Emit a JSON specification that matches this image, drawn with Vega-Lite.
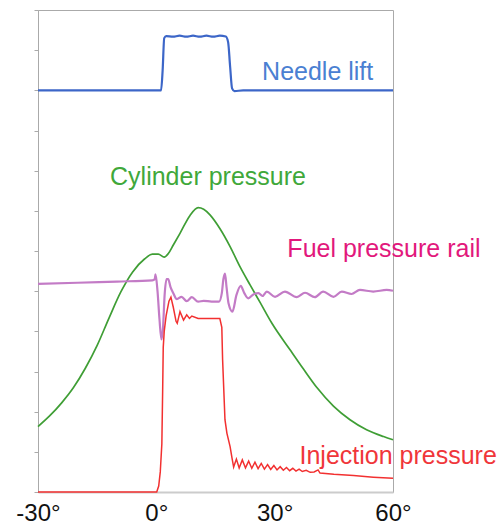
{
  "$schema": "https://vega.github.io/schema/vega-lite/v6.json",
  "width": 355,
  "height": 482,
  "autosize": "none",
  "padding": {"left": 38, "top": 10, "right": 109, "bottom": 32},
  "background": "white",
  "config": {
    "view": {"stroke": "#aaaaaa", "strokeWidth": 1},
    "font": "Liberation Sans"
  },
  "datasets": {
    "needle": [
      {"x": -30, "y": 10.0}, {"x": 1.2, "y": 10.0}, {"x": 1.6, "y": 10.5}, {"x": 2.0, "y": 11.3},
      {"x": 2.5, "y": 11.35}, {"x": 4.2, "y": 11.335}, {"x": 5.9, "y": 11.36}, {"x": 7.6, "y": 11.335},
      {"x": 9.3, "y": 11.36}, {"x": 11.0, "y": 11.335}, {"x": 12.7, "y": 11.36}, {"x": 14.4, "y": 11.335},
      {"x": 16.1, "y": 11.36}, {"x": 17.6, "y": 11.34}, {"x": 18.2, "y": 11.2}, {"x": 18.7, "y": 10.6},
      {"x": 19.2, "y": 10.05}, {"x": 19.8, "y": 9.98}, {"x": 22, "y": 10.0}, {"x": 60, "y": 10.0}
    ],
    "cylinder": [
      {"x": -30, "y": 1.63}, {"x": -27, "y": 1.9}, {"x": -24, "y": 2.22}, {"x": -21, "y": 2.6},
      {"x": -18, "y": 3.08}, {"x": -15, "y": 3.65}, {"x": -12, "y": 4.33}, {"x": -9, "y": 4.98},
      {"x": -6, "y": 5.48}, {"x": -3, "y": 5.8}, {"x": -1, "y": 5.92}, {"x": 0.5, "y": 5.92},
      {"x": 2, "y": 5.85}, {"x": 3, "y": 5.93}, {"x": 4.3, "y": 6.15}, {"x": 6, "y": 6.44},
      {"x": 8.5, "y": 6.88}, {"x": 10.6, "y": 7.08}, {"x": 12, "y": 7.04}, {"x": 13.6, "y": 6.9},
      {"x": 16.1, "y": 6.56}, {"x": 18.7, "y": 6.11}, {"x": 21.2, "y": 5.61}, {"x": 23.8, "y": 5.15},
      {"x": 26.3, "y": 4.72}, {"x": 29.3, "y": 4.2}, {"x": 33.9, "y": 3.54}, {"x": 37.3, "y": 3.06},
      {"x": 40.7, "y": 2.6}, {"x": 44.9, "y": 2.14}, {"x": 49.1, "y": 1.8}, {"x": 53.3, "y": 1.55},
      {"x": 57.6, "y": 1.38}, {"x": 60, "y": 1.3}
    ],
    "rail": [
      {"x": -30, "y": 5.18}, {"x": -20, "y": 5.21}, {"x": -10, "y": 5.24}, {"x": -1, "y": 5.27},
      {"x": -0.4, "y": 5.3}, {"x": -0.2, "y": 5.42}, {"x": 0.3, "y": 5.0}, {"x": 0.8, "y": 4.3},
      {"x": 1.3, "y": 3.8}, {"x": 1.7, "y": 4.1}, {"x": 2.1, "y": 4.9}, {"x": 2.6, "y": 5.3},
      {"x": 3.0, "y": 5.3}, {"x": 3.6, "y": 5.1}, {"x": 4.3, "y": 4.95}, {"x": 5.2, "y": 4.8},
      {"x": 6.4, "y": 4.86}, {"x": 7.7, "y": 4.75}, {"x": 9.0, "y": 4.85}, {"x": 10.6, "y": 4.74},
      {"x": 12, "y": 4.76}, {"x": 14, "y": 4.74}, {"x": 15.9, "y": 4.74}, {"x": 16.6, "y": 4.95},
      {"x": 17.0, "y": 5.3}, {"x": 17.4, "y": 5.44}, {"x": 17.8, "y": 5.1}, {"x": 18.3, "y": 4.7},
      {"x": 19.3, "y": 4.49}, {"x": 20.3, "y": 4.9}, {"x": 21.4, "y": 5.13}, {"x": 22.3, "y": 4.95},
      {"x": 23.3, "y": 4.82}, {"x": 24.6, "y": 4.92}, {"x": 25.9, "y": 4.95}, {"x": 26.9, "y": 4.88},
      {"x": 28.0, "y": 4.99}, {"x": 30.1, "y": 4.86}, {"x": 32.6, "y": 4.99}, {"x": 35.6, "y": 4.85},
      {"x": 37.7, "y": 4.96}, {"x": 40.2, "y": 4.85}, {"x": 42.3, "y": 4.99}, {"x": 44.9, "y": 4.86},
      {"x": 47.0, "y": 4.99}, {"x": 49.5, "y": 4.93}, {"x": 51.6, "y": 5.03}, {"x": 55.0, "y": 4.99},
      {"x": 58.4, "y": 5.03}, {"x": 60, "y": 5.01}
    ],
    "injection": [
      {"x": -30, "y": 0}, {"x": 0.1, "y": 0}, {"x": 0.6, "y": 0.15}, {"x": 1.0, "y": 0.5},
      {"x": 1.4, "y": 1.2}, {"x": 1.6, "y": 2.5}, {"x": 1.75, "y": 3.6}, {"x": 2.0, "y": 4.0},
      {"x": 2.5, "y": 4.4}, {"x": 3.2, "y": 4.75}, {"x": 3.7, "y": 4.85}, {"x": 4.3, "y": 4.6},
      {"x": 5.0, "y": 4.25}, {"x": 5.3, "y": 4.2}, {"x": 6.0, "y": 4.49}, {"x": 6.9, "y": 4.28},
      {"x": 7.7, "y": 4.41}, {"x": 8.4, "y": 4.32}, {"x": 9.0, "y": 4.38}, {"x": 10.6, "y": 4.32},
      {"x": 16.1, "y": 4.32}, {"x": 16.6, "y": 4.1}, {"x": 16.8, "y": 3.3}, {"x": 17.4, "y": 1.8},
      {"x": 17.9, "y": 1.46}, {"x": 18.7, "y": 1.13}, {"x": 19.2, "y": 0.84}, {"x": 19.6, "y": 0.62},
      {"x": 20.3, "y": 0.82}, {"x": 21.0, "y": 0.6}, {"x": 21.8, "y": 0.8}, {"x": 22.6, "y": 0.6},
      {"x": 23.4, "y": 0.77}, {"x": 24.2, "y": 0.59}, {"x": 25.0, "y": 0.74}, {"x": 25.8, "y": 0.58},
      {"x": 26.6, "y": 0.71}, {"x": 27.4, "y": 0.57}, {"x": 28.2, "y": 0.68}, {"x": 29.0, "y": 0.56},
      {"x": 29.8, "y": 0.66}, {"x": 30.6, "y": 0.55}, {"x": 31.4, "y": 0.63}, {"x": 32.2, "y": 0.54},
      {"x": 33.0, "y": 0.61}, {"x": 33.8, "y": 0.53}, {"x": 34.6, "y": 0.59}, {"x": 35.4, "y": 0.52},
      {"x": 36.2, "y": 0.57}, {"x": 37.0, "y": 0.51}, {"x": 38.0, "y": 0.54}, {"x": 39.0, "y": 0.49},
      {"x": 40.0, "y": 0.5}, {"x": 41.0, "y": 0.55}, {"x": 41.5, "y": 0.47}, {"x": 45, "y": 0.44},
      {"x": 50, "y": 0.41}, {"x": 55, "y": 0.37}, {"x": 60, "y": 0.34}
    ],
    "labels": [
      {"label": "Needle lift", "x": 40.9, "y": 10.26},
      {"label": "Cylinder pressure", "x": 13.1, "y": 7.64},
      {"label": "Fuel pressure rail", "x": 57.7, "y": 5.85},
      {"label": "Injection pressure", "x": 61.3, "y": 0.7}
    ]
  },
  "encoding": {
    "x": {
      "field": "x", "type": "quantitative",
      "scale": {"domain": [-30, 60], "nice": false, "zero": false},
      "axis": {
        "title": null, "values": [-30, 0, 30, 60], "labelExpr": "datum.value + '°'",
        "grid": false, "ticks": false, "domainColor": "#cccccc", "domainWidth": 2,
        "labelFontSize": 24, "labelColor": "#111111", "labelPadding": 9, "labelFont": "Liberation Sans",
        "labelFlush": false, "labelOverlap": false
      }
    },
    "y": {
      "field": "y", "type": "quantitative",
      "scale": {"domain": [0, 12], "nice": false, "zero": false},
      "axis": {
        "title": null, "values": [0, 1, 2, 3, 4, 5, 6, 7, 8, 9, 10, 11, 12], "labels": false,
        "grid": false, "tickColor": "#aaaaaa", "tickSize": 4, "domainColor": "#aaaaaa", "domainWidth": 1
      }
    }
  },
  "layer": [
    {"data": {"name": "cylinder"}, "mark": {"type": "line", "color": "#3f9e35", "strokeWidth": 1.7, "interpolate": "monotone"}},
    {"data": {"name": "rail"}, "mark": {"type": "line", "color": "#c37bc6", "strokeWidth": 2.2, "interpolate": "monotone"}},
    {"data": {"name": "injection"}, "mark": {"type": "line", "color": "#f23030", "strokeWidth": 1.5}},
    {"data": {"name": "needle"}, "mark": {"type": "line", "color": "#3c66c8", "strokeWidth": 2.2, "interpolate": "monotone"}},
    {
      "data": {"name": "labels"},
      "mark": {"type": "text", "fontSize": 25, "align": "center", "baseline": "alphabetic", "font": "Liberation Sans"},
      "encoding": {
        "text": {"field": "label"},
        "color": {
          "field": "label", "type": "nominal", "legend": null,
          "scale": {
            "domain": ["Needle lift", "Cylinder pressure", "Fuel pressure rail", "Injection pressure"],
            "range": ["#4a80d2", "#40a83a", "#e2187c", "#f0363a"]
          }
        }
      }
    }
  ]
}
